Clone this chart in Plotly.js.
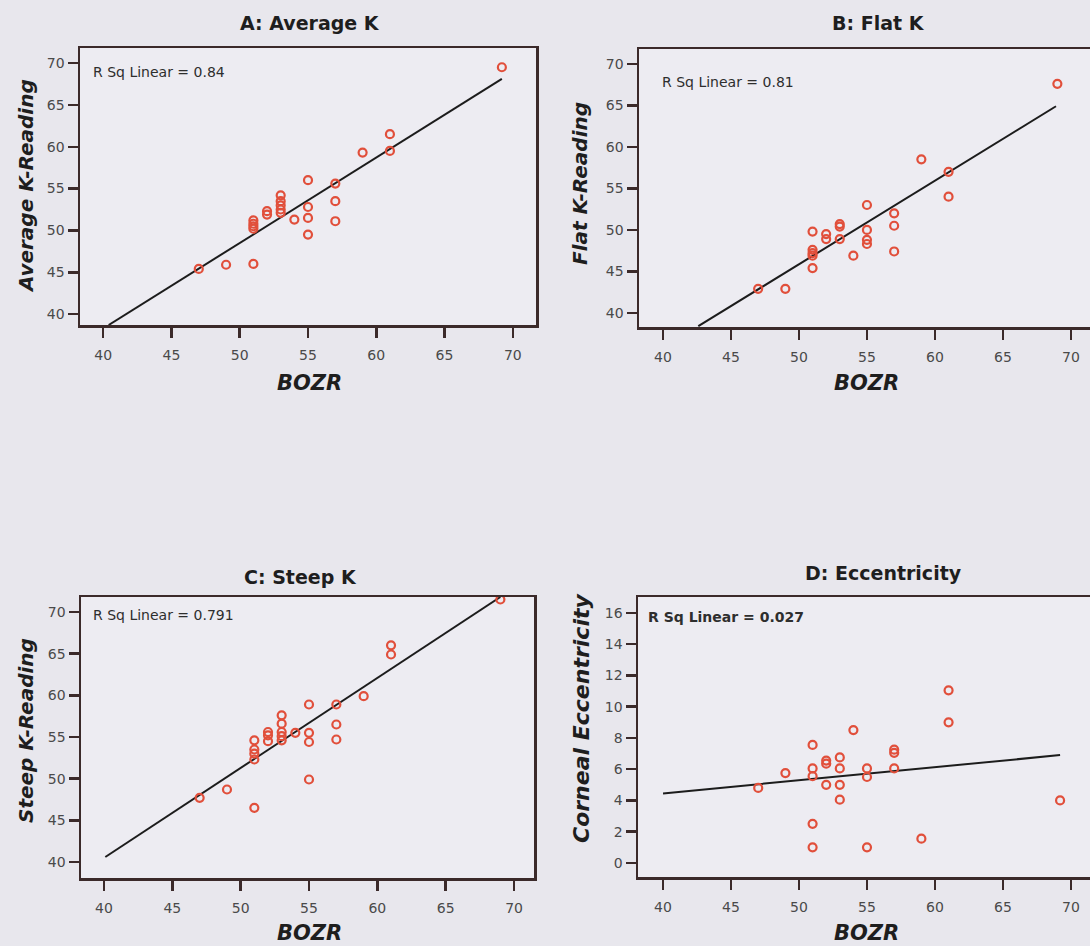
<!DOCTYPE html>
<html><head><meta charset="utf-8">
<script src="https://cdn.plot.ly/plotly-3.0.1.min.js"></script>
<style>html,body{margin:0;padding:0;background:#e8e7ed}</style>
</head><body><div id="chart" style="width:1090px;height:946px"></div>
<script>
// Panel A: Average K
const avgX = [69.2, 61, 61, 59, 55, 55, 55, 55, 57, 57, 57, 54, 53, 53, 53, 53, 53, 52, 52, 51, 51, 51, 51, 51, 49, 47];
const avgY = [69.5, 61.5, 59.5, 59.3, 56.0, 52.8, 51.5, 49.5, 55.6, 53.5, 51.1, 51.3, 54.2, 53.5, 53.0, 52.5, 52.1, 52.3, 51.9, 51.2, 50.8, 50.5, 50.2, 46.0, 45.9, 45.4];
const fitAvgX = [40.4, 69.2];
const fitAvgY = [38.7, 68.1];
// Panel B: Flat K
const flatX = [69, 59, 61, 61, 55, 55, 55, 55, 57, 57, 57, 54, 53, 53, 53, 52, 52, 51, 51, 51, 51, 51, 49, 47];
const flatY = [67.6, 58.5, 57.0, 54.0, 53.0, 50.0, 48.8, 48.3, 52.0, 50.5, 47.4, 46.9, 50.7, 50.4, 48.9, 49.5, 48.9, 49.8, 47.6, 47.2, 46.9, 45.4, 42.9, 42.9];
const fitFlatX = [42.6, 68.9];
const fitFlatY = [38.4, 64.9];
// Panel C: Steep K
const steepX = [69, 61, 61, 59, 55, 57, 57, 57, 55, 55, 55, 54, 53, 53, 53, 53, 53, 52, 52, 52, 51, 51, 51, 51, 51, 49, 47];
const steepY = [71.5, 66.0, 64.9, 59.9, 58.9, 58.9, 56.5, 54.7, 55.5, 54.4, 49.9, 55.5, 57.6, 56.6, 55.6, 55.1, 54.6, 55.6, 55.2, 54.5, 54.6, 53.5, 53.0, 52.3, 46.5, 48.7, 47.7];
const fitSteepX = [40.1, 69.0];
const fitSteepY = [40.6, 71.8];
// Panel D: Eccentricity
const eccX = [61, 61, 54, 51, 57, 57, 57, 52, 52, 53, 53, 53, 53, 52, 51, 51, 49, 47, 55, 55, 51, 51, 55, 59, 69.2];
const eccY = [11.05, 9.0, 8.5, 7.55, 7.25, 7.05, 6.05, 6.55, 6.35, 6.75, 6.05, 5.0, 4.05, 5.0, 6.05, 5.55, 5.75, 4.8, 6.05, 5.5, 2.5, 1.0, 1.0, 1.55, 4.0];
const fitEccX = [40.0, 69.2];
const fitEccY = [4.45, 6.9];

const panelTitles = ['A: Average K', 'B: Flat K', 'C: Steep K', 'D: Eccentricity'];
const yTitles = ['Average K-Reading', 'Flat K-Reading', 'Steep K-Reading', 'Corneal Eccentricity'];
const xTitle = 'BOZR';
const rsq = ['R Sq Linear = 0.84', 'R Sq Linear = 0.81', 'R Sq Linear = 0.791', 'R Sq Linear = 0.027'];
const xTicks = [40, 45, 50, 55, 60, 65, 70];
const kTicks = [40, 45, 50, 55, 60, 65, 70];
const eTicks = [0, 2, 4, 6, 8, 10, 12, 14, 16];

const W = 1090, H = 946;
const px = v => v / W, py = v => 1 - v / H;
const frame = '#3b2a2a', red = '#e14f3b';

const pts = (x, y, n) => ({x, y, xaxis: 'x' + n, yaxis: 'y' + n, type: 'scatter', mode: 'markers',
  marker: {symbol: 'circle-open', size: 8, color: red, line: {width: 2.2, color: red}}, hoverinfo: 'x+y'});
const fit = (x, y, n) => ({x, y, xaxis: 'x' + n, yaxis: 'y' + n, type: 'scatter', mode: 'lines',
  line: {color: '#1c1c1c', width: 2}, hoverinfo: 'skip'});

const data = [
  fit(fitAvgX, fitAvgY, ''), pts(avgX, avgY, ''),
  fit(fitFlatX, fitFlatY, '2'), pts(flatX, flatY, '2'),
  fit(fitSteepX, fitSteepY, '3'), pts(steepX, steepY, '3'),
  fit(fitEccX, fitEccY, '4'), pts(eccX, eccY, '4')
];

const tickFont = {family: 'DejaVu Sans', size: 14, color: '#4a4a4a'};
const xa = (l, r, range, anchor) => ({domain: [px(l), Math.min(1, px(r))], range, anchor,
  tickvals: xTicks, ticks: 'outside', ticklen: 10, tickwidth: 2.5, tickcolor: frame, ticklabelstandoff: 6,
  showline: true, linewidth: 2.5, linecolor: frame, mirror: true, showgrid: false, zeroline: false,
  tickfont: tickFont, fixedrange: true});
const ya = (t, b, range, anchor, tv, mir) => ({domain: [py(b), py(t)], range, anchor,
  tickvals: tv, ticks: 'outside', ticklen: 10, tickwidth: 2.5, tickcolor: frame,
  showline: true, linewidth: 2.5, linecolor: frame, mirror: mir, showgrid: false, zeroline: false,
  tickfont: tickFont, fixedrange: true});

const ann = [];
const titleAt = (t, x, y) => ann.push({text: t, xref: 'paper', yref: 'paper', x: px(x), y: py(y),
  xanchor: 'center', yanchor: 'middle', showarrow: false, font: {family: 'DejaVu Sans', size: 19, color: '#1e1e1e', weight: 'bold'}});
const yTitleAt = (t, x, y, s) => ann.push({text: t, xref: 'paper', yref: 'paper', x: px(x), y: py(y), textangle: -90,
  xanchor: 'center', yanchor: 'middle', showarrow: false, font: {family: 'DejaVu Sans', size: s, color: '#1e1e1e', weight: 'bold', style: 'italic'}});
const xTitleAt = (t, x, y) => ann.push({text: t, xref: 'paper', yref: 'paper', x: px(x), y: py(y),
  xanchor: 'center', yanchor: 'middle', showarrow: false, font: {family: 'DejaVu Sans', size: 21, color: '#1e1e1e', weight: 'bold', style: 'italic'}});
const rsqAt = (t, x, y, bold) => ann.push({text: t, xref: 'paper', yref: 'paper', x: px(x), y: py(y),
  xanchor: 'left', yanchor: 'middle', showarrow: false, font: {family: 'DejaVu Sans', size: 14, color: '#2e2e2e', weight: bold ? 'bold' : 'normal'}});

titleAt(panelTitles[0], 310, 23); titleAt(panelTitles[1], 878, 23);
titleAt(panelTitles[2], 300, 577); titleAt(panelTitles[3], 883, 573);
yTitleAt(yTitles[0], 26, 186, 20); yTitleAt(yTitles[1], 580, 184, 20);
yTitleAt(yTitles[2], 26, 731, 20); yTitleAt(yTitles[3], 581, 718, 22);
xTitleAt(xTitle, 309, 383); xTitleAt(xTitle, 866, 383);
xTitleAt(xTitle, 309, 933); xTitleAt(xTitle, 866, 933);
rsqAt(rsq[0], 91, 72, false); rsqAt(rsq[1], 660, 82, false);
rsqAt(rsq[2], 91, 615, false); rsqAt(rsq[3], 646, 617, true);

const layout = {
  width: W, height: H, margin: {l: 0, r: 0, t: 0, b: 0},
  paper_bgcolor: '#e8e7ed', plot_bgcolor: '#edecf2', showlegend: false,
  font: {family: 'DejaVu Sans'},
  xaxis: xa(80, 536, [38.3, 71.7], 'y'),
  yaxis: ya(48, 325, [38.7, 71.8], 'x', kTicks, true),
  xaxis2: xa(639, 1090, [38.24, 71.4], 'y2'),
  yaxis2: ya(49, 327, [38.3, 71.8], 'x2', kTicks, false),
  xaxis3: xa(81, 534, [38.32, 71.46], 'y3'),
  yaxis3: ya(597, 878, [38.08, 71.8], 'x3', kTicks, true),
  xaxis4: xa(638, 1090, [38.16, 71.4], 'y4'),
  yaxis4: ya(597, 877, [-0.9, 17.02], 'x4', eTicks, false),
  annotations: ann
};
Plotly.newPlot('chart', data, layout, {displayModeBar: false, staticPlot: true});
</script></body></html>
